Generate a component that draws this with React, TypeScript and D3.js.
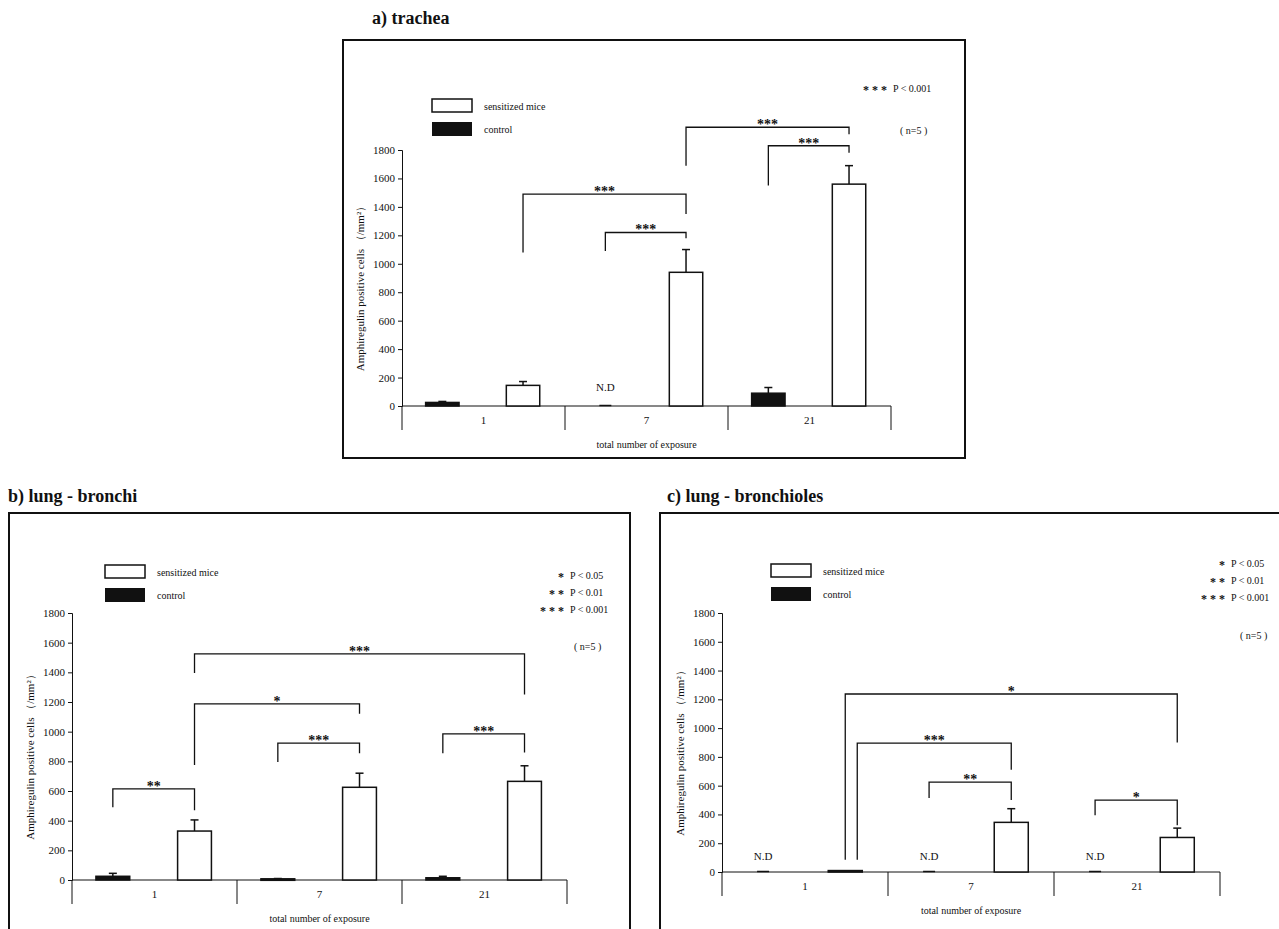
import React, { useEffect, useRef } from 'react';
import * as d3 from 'd3';

const groups = ['1', '7', '21'];
const yTicks = [0, 200, 400, 600, 800, 1000, 1200, 1400, 1600, 1800];

// a) trachea
const tracheaControl = [25, 0, 90];
const tracheaControlErr = [32, 0, 130];
const tracheaSens = [145, 940, 1560];
const tracheaSensErr = [172, 1100, 1690];
const tracheaND = [false, true, false];

// b) lung - bronchi
const bronchiControl = [25, 8, 15];
const bronchiControlErr = [45, 10, 25];
const bronchiSens = [330, 625, 665];
const bronchiSensErr = [405, 720, 770];
const bronchiND = [false, false, false];

// c) lung - bronchioles
const bronchiolesControl = [0, 0, 0];
const bronchiolesControlErr = [0, 0, 0];
const bronchiolesSens = [10, 345, 240];
const bronchiolesSensErr = [10, 440, 305];
const bronchiolesND = [true, true, true];

interface Bracket {
  from: [number, number]; // [group, series] series 0 = control, 1 = sensitized
  to: [number, number];
  top: number;
  left: number;
  right: number;
  label: string;
  nudge?: number;
}

const tracheaBrackets: Bracket[] = [
  { from: [0, 1], to: [1, 1], top: 1490, left: 1080, right: 1350, label: '***' },
  { from: [1, 0], to: [1, 1], top: 1220, left: 1090, right: 1180, label: '***' },
  { from: [1, 1], to: [2, 1], top: 1960, left: 1690, right: 1910, label: '***' },
  { from: [2, 0], to: [2, 1], top: 1830, left: 1550, right: 1780, label: '***' },
];
const bronchiBrackets: Bracket[] = [
  { from: [0, 0], to: [0, 1], top: 615, left: 490, right: 470, label: '**' },
  { from: [0, 1], to: [2, 1], top: 1525, left: 1395, right: 1250, label: '***' },
  { from: [0, 1], to: [1, 1], top: 1187, left: 775, right: 1120, label: '*' },
  { from: [1, 0], to: [1, 1], top: 923, left: 795, right: 855, label: '***' },
  { from: [2, 0], to: [2, 1], top: 985, left: 855, right: 860, label: '***' },
];
const bronchiolesBrackets: Bracket[] = [
  { from: [0, 1], to: [2, 1], top: 1237, left: 85, right: 900, label: '*', nudge: 0 },
  { from: [0, 1], to: [1, 1], top: 896, left: 85, right: 710, label: '***', nudge: 12 },
  { from: [1, 0], to: [1, 1], top: 625, left: 515, right: 500, label: '**' },
  { from: [2, 0], to: [2, 1], top: 500, left: 395, right: 325, label: '*' },
];

const sigLegendFull = [
  { stars: '*', text: 'P < 0.05' },
  { stars: '* *', text: 'P < 0.01' },
  { stars: '* * *', text: 'P < 0.001' },
];
const sigLegendTrachea = [{ stars: '* * *', text: 'P < 0.001' }];

interface PanelSpec {
  title: string;
  titleX: number;
  titleY: number;
  frame: [number, number, number, number];
  x0: number;
  y0: number;
  yTop: number;
  groupW: number;
  control: number[];
  controlErr: number[];
  sens: number[];
  sensErr: number[];
  nd: boolean[];
  brackets: Bracket[];
  legendX: number;
  legendY: number;
  sig: { stars: string; text: string }[];
  sigX: number;
  sigY: number;
  nX: number;
  nY: number;
  ndY: number;
}

const panels: PanelSpec[] = [
  {
    title: 'a) trachea', titleX: 372, titleY: 24, frame: [343, 40, 622, 418],
    x0: 402, y0: 406, yTop: 150, groupW: 163,
    control: tracheaControl, controlErr: tracheaControlErr, sens: tracheaSens, sensErr: tracheaSensErr,
    nd: tracheaND, brackets: tracheaBrackets, legendX: 432, legendY: 99,
    sig: sigLegendTrachea, sigX: 893, sigY: 94, nX: 900, nY: 134, ndY: 391,
  },
  {
    title: 'b) lung - bronchi', titleX: 8, titleY: 502, frame: [9, 513, 621, 420],
    x0: 72, y0: 880, yTop: 613, groupW: 165,
    control: bronchiControl, controlErr: bronchiControlErr, sens: bronchiSens, sensErr: bronchiSensErr,
    nd: bronchiND, brackets: bronchiBrackets, legendX: 105, legendY: 565,
    sig: sigLegendFull, sigX: 570, sigY: 581, nX: 574, nY: 650, ndY: 860,
  },
  {
    title: 'c) lung - bronchioles', titleX: 667, titleY: 502, frame: [660, 513, 625, 420],
    x0: 722, y0: 872, yTop: 613, groupW: 166,
    control: bronchiolesControl, controlErr: bronchiolesControlErr, sens: bronchiolesSens, sensErr: bronchiolesSensErr,
    nd: bronchiolesND, brackets: bronchiolesBrackets, legendX: 771, legendY: 564,
    sig: sigLegendFull, sigX: 1231, sigY: 569, nX: 1240, nY: 639, ndY: 860,
  },
];

const serif = '"Liberation Serif", "Times New Roman", serif';

const App: React.FC = () => {
  const svgRef = useRef<SVGSVGElement>(null);

  useEffect(() => {
    if (!svgRef.current) return;
    const svg = d3.select(svgRef.current);
    svg.selectAll('*').remove();

    panels.forEach(p => {
      const g = svg.append('g').attr('font-family', serif).attr('fill', '#111');

      g.append('text').attr('x', p.titleX).attr('y', p.titleY)
        .attr('font-size', 18).attr('font-weight', 'bold').text(p.title);

      g.append('rect').attr('x', p.frame[0]).attr('y', p.frame[1])
        .attr('width', p.frame[2]).attr('height', p.frame[3])
        .attr('fill', 'none').attr('stroke', '#111').attr('stroke-width', 2);

      const y = d3.scaleLinear().domain([0, 1800]).range([p.y0, p.yTop]);
      const x = d3.scaleBand().domain(groups)
        .range([p.x0, p.x0 + p.groupW * groups.length]);
      const bw = p.groupW * 0.205;
      const barX = (gi: number, s: number) =>
        (x(groups[gi]) as number) + p.groupW * (s === 0 ? 0.145 : 0.64);
      const barC = (gi: number, s: number) => barX(gi, s) + bw / 2;

      // y axis
      const yAxis = d3.axisLeft(y).tickValues(yTicks).tickSize(4).tickFormat(d3.format('d'));
      const ya = g.append('g').attr('transform', `translate(${p.x0},0)`).call(yAxis);
      ya.select('.domain').attr('stroke', '#111');
      ya.selectAll('line').attr('stroke', '#111');
      ya.selectAll('text').attr('font-family', serif).attr('font-size', 11).attr('fill', '#111');

      g.append('text')
        .attr('transform', `translate(${p.x0 - 38},${(p.y0 + p.yTop) / 2 + 8}) rotate(-90)`)
        .attr('text-anchor', 'middle').attr('font-size', 11)
        .text('Amphiregulin positive cells （/mm²）');

      // x axis with category dividers
      const xEnd = p.x0 + p.groupW * groups.length;
      g.append('line').attr('x1', p.x0).attr('x2', xEnd).attr('y1', p.y0).attr('y2', p.y0)
        .attr('stroke', '#111');
      [p.x0, ...groups.map(d => (x(d) as number) + x.bandwidth())].forEach(v => {
        g.append('line').attr('x1', v).attr('x2', v).attr('y1', p.y0).attr('y2', p.y0 + 24)
          .attr('stroke', '#111');
      });
      groups.forEach(d => {
        g.append('text').attr('x', (x(d) as number) + x.bandwidth() / 2).attr('y', p.y0 + 18)
          .attr('text-anchor', 'middle').attr('font-size', 11).text(d);
      });
      g.append('text').attr('x', p.x0 + p.groupW * 1.5).attr('y', p.y0 + 42)
        .attr('text-anchor', 'middle').attr('font-size', 10).text('total number of exposure');

      // bars
      const series = [
        { vals: p.control, errs: p.controlErr, fill: '#111' },
        { vals: p.sens, errs: p.sensErr, fill: '#fff' },
      ];
      series.forEach((s, si) => {
        s.vals.forEach((v, gi) => {
          if (si === 0 && p.nd[gi]) return;
          const xc = barC(gi, si);
          if (s.errs[gi] > v) {
            g.append('line').attr('x1', xc).attr('x2', xc).attr('y1', y(v)).attr('y2', y(s.errs[gi]))
              .attr('stroke', '#111').attr('stroke-width', 1.5);
            g.append('line').attr('x1', xc - 4).attr('x2', xc + 4)
              .attr('y1', y(s.errs[gi])).attr('y2', y(s.errs[gi])).attr('stroke', '#111').attr('stroke-width', 1.5);
          }
          g.append('rect').attr('x', barX(gi, si)).attr('y', y(v))
            .attr('width', bw).attr('height', Math.max(1.5, p.y0 - y(v)))
            .attr('fill', s.fill).attr('stroke', '#111').attr('stroke-width', 1.5);
        });
      });
      p.nd.forEach((nd, gi) => {
        if (!nd) return;
        g.append('text').attr('x', barC(gi, 0)).attr('y', p.ndY)
          .attr('text-anchor', 'middle').attr('font-size', 11).text('N.D');
        g.append('line').attr('x1', barC(gi, 0) - 6).attr('x2', barC(gi, 0) + 6)
          .attr('y1', p.y0 - 0.5).attr('y2', p.y0 - 0.5).attr('stroke', '#111').attr('stroke-width', 1.5);
      });

      // significance brackets
      p.brackets.forEach(b => {
        const xa = barC(b.from[0], b.from[1]) + (b.nudge ?? 0);
        const xb = barC(b.to[0], b.to[1]);
        const path = d3.path();
        path.moveTo(xa, y(b.left));
        path.lineTo(xa, y(b.top));
        path.lineTo(xb, y(b.top));
        path.lineTo(xb, y(b.right));
        g.append('path').attr('d', path.toString()).attr('fill', 'none')
          .attr('stroke', '#111').attr('stroke-width', 1.3);
        g.append('text').attr('x', (xa + xb) / 2).attr('y', y(b.top) + 2)
          .attr('text-anchor', 'middle').attr('font-size', 14).attr('font-weight', 'bold').text(b.label);
      });

      // legend
      g.append('rect').attr('x', p.legendX).attr('y', p.legendY).attr('width', 40).attr('height', 13)
        .attr('fill', '#fff').attr('stroke', '#111').attr('stroke-width', 1.5);
      g.append('text').attr('x', p.legendX + 52).attr('y', p.legendY + 11).attr('font-size', 10)
        .text('sensitized mice');
      g.append('rect').attr('x', p.legendX).attr('y', p.legendY + 23).attr('width', 40).attr('height', 14)
        .attr('fill', '#111');
      g.append('text').attr('x', p.legendX + 52).attr('y', p.legendY + 34).attr('font-size', 10)
        .text('control');

      p.sig.forEach((s, i) => {
        g.append('text').attr('x', p.sigX - 6).attr('y', p.sigY + i * 17)
          .attr('text-anchor', 'end').attr('font-size', 12).attr('font-weight', 'bold').text(s.stars);
        g.append('text').attr('x', p.sigX).attr('y', p.sigY + i * 17 - 2)
          .attr('font-size', 10).text(s.text);
      });
      g.append('text').attr('x', p.nX).attr('y', p.nY).attr('font-size', 10).text('( n=5 )');
    });
  }, []);

  return (
    <svg ref={svgRef} width={1279} height={929}
      style={{ position: 'absolute', left: 0, top: 0, background: '#fff' }} />
  );
};

export default App;
